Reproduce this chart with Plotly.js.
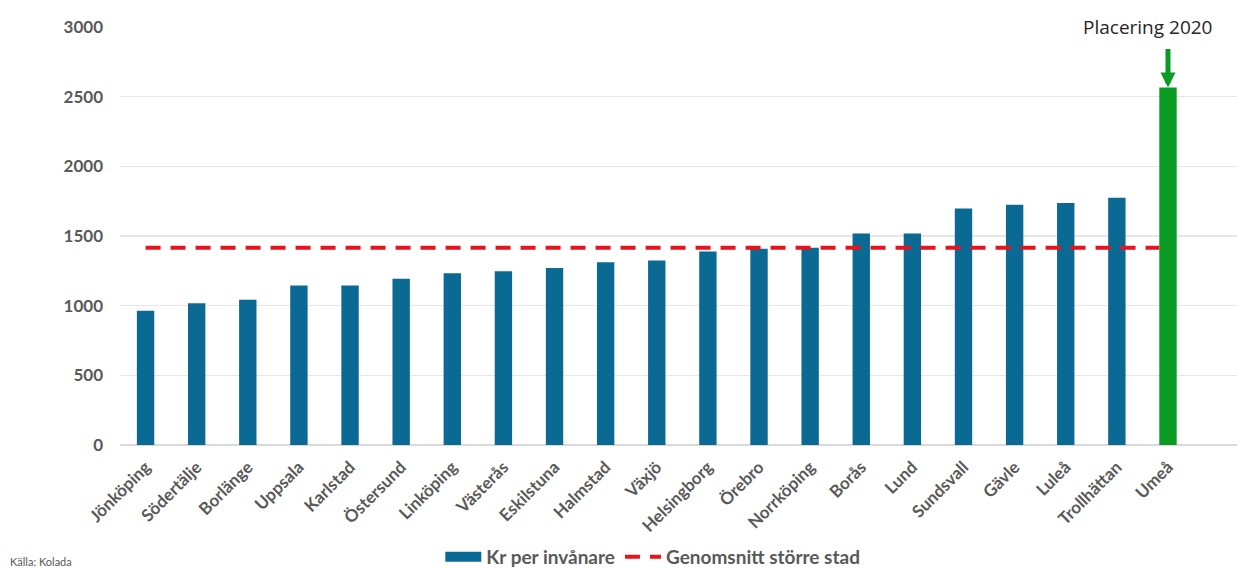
<!DOCTYPE html>
<html>
<head>
<meta charset="utf-8">
<script src="https://cdn.plot.ly/plotly-3.0.1.min.js"></script>
<style>
  html, body { margin: 0; padding: 0; background: #ffffff; }
  #chart { width: 1237px; height: 570px; }
</style>
</head>
<body>
<div id="chart"></div>
<script>
// ---- data ----
const cities = ["Jönköping","Södertälje","Borlänge","Uppsala","Karlstad","Östersund","Linköping","Västerås","Eskilstuna","Halmstad","Växjö","Helsingborg","Örebro","Norrköping","Borås","Lund","Sundsvall","Gävle","Luleå","Trollhättan","Umeå"];
const krPerInvanare = [964,1017,1043,1144,1144,1194,1232,1247,1271,1312,1324,1388,1408,1415,1518,1518,1698,1724,1736,1775,2565];
const genomsnitt = 1415;
const highlightCity = "Umeå";
const yTicks = [0,500,1000,1500,2000,2500,3000];
const seriesNames = ["Kr per invånare","Genomsnitt större stad"];
const annotationText = "Placering 2020";
const sourceText = "Källa: Kolada";

// ---- styles ----
const BLUE = "#0b6a93";
const GREEN = "#0a9b22";
const RED = "#e8141b";
const TEXT = "#595959";
const FONT = "Lato, 'Open Sans', sans-serif";
const BAR_W = 0.34;

const idx = cities.map((_, i) => i);
const hi = cities.indexOf(highlightCity);
const barColors = cities.map(c => c === highlightCity ? GREEN : BLUE);

const lineX = idx.filter(i => i !== hi);
lineX.push(hi - BAR_W / 2);
const lineY = lineX.map(() => genomsnitt);

const traces = [
  {
    type: "bar",
    x: idx,
    y: krPerInvanare,
    width: BAR_W,
    name: seriesNames[0],
    showlegend: false,
    marker: { color: barColors, line: { width: 0 } },
    hoverinfo: "y"
  },
  {
    // legend entry for the bar series (wide swatch as in the original)
    type: "scatter",
    mode: "lines",
    x: [null],
    y: [null],
    name: seriesNames[0],
    line: { color: BLUE, width: 10 },
    showlegend: true
  },
  {
    type: "scatter",
    mode: "lines",
    x: lineX,
    y: lineY,
    name: seriesNames[1],
    line: { color: RED, width: 4, dash: "15px,10px" },
    hoverinfo: "y"
  }
];

const layout = {
  width: 1237,
  height: 570,
  margin: { l: 120, r: 0, t: 27, b: 125 },
  paper_bgcolor: "#ffffff",
  plot_bgcolor: "#ffffff",
  font: { family: FONT, color: TEXT },
  showlegend: true,
  legend: {
    orientation: "h",
    x: 0.477, xanchor: "center",
    xref: "paper",
    yref: "container",
    y: 0.023, yanchor: "middle",
    font: { family: FONT, size: 19, color: TEXT, weight: "bold" },
    itemwidth: 36,
    tracegroupgap: 0,
    bgcolor: "rgba(0,0,0,0)"
  },
  xaxis: {
    type: "linear",
    range: [-0.5, 21.35],
    tickmode: "array",
    tickvals: idx,
    ticktext: cities,
    tickangle: -45,
    tickfont: { family: FONT, size: 17, color: TEXT, weight: "bold" },
    showgrid: false,
    zeroline: false,
    showline: false,
    ticks: "",
    ticklabelstandoff: 8,
    fixedrange: true
  },
  yaxis: {
    range: [0, 3000],
    tickmode: "array",
    tickvals: yTicks,
    ticktext: yTicks.map(String),
    tickfont: { family: FONT, size: 17, color: TEXT, weight: "bold" },
    showgrid: true,
    gridcolor: "#e6e6e6",
    gridwidth: 1.5,
    zeroline: true,
    zerolinecolor: "#d9d9d9",
    zerolinewidth: 1.5,
    showline: false,
    ticks: "",
    ticklabelstandoff: 16,
    fixedrange: true
  },
  annotations: [
    {
      x: hi, y: krPerInvanare[hi],
      xref: "x", yref: "y",
      ax: 0, ay: -40,
      axref: "pixel", ayref: "pixel",
      showarrow: true,
      arrowhead: 2,
      arrowsize: 0.6,
      arrowwidth: 5,
      arrowcolor: GREEN,
      text: ""
    },
    {
      x: hi - 0.4, y: 3000,
      xref: "x", yref: "y",
      xanchor: "center", yanchor: "middle",
      text: annotationText,
      showarrow: false,
      bgcolor: "#ffffff",
      font: { family: "'Open Sans', Lato, sans-serif", size: 19, color: "#262626" }
    },
    {
      x: 0, y: 0,
      xref: "paper", yref: "paper",
      xshift: -112, yshift: -116,
      xanchor: "left", yanchor: "middle",
      text: sourceText,
      showarrow: false,
      font: { family: FONT, size: 11, color: TEXT }
    }
  ]
};

Plotly.newPlot("chart", traces, layout, { displayModeBar: false, staticPlot: true });
</script>
</body>
</html>
